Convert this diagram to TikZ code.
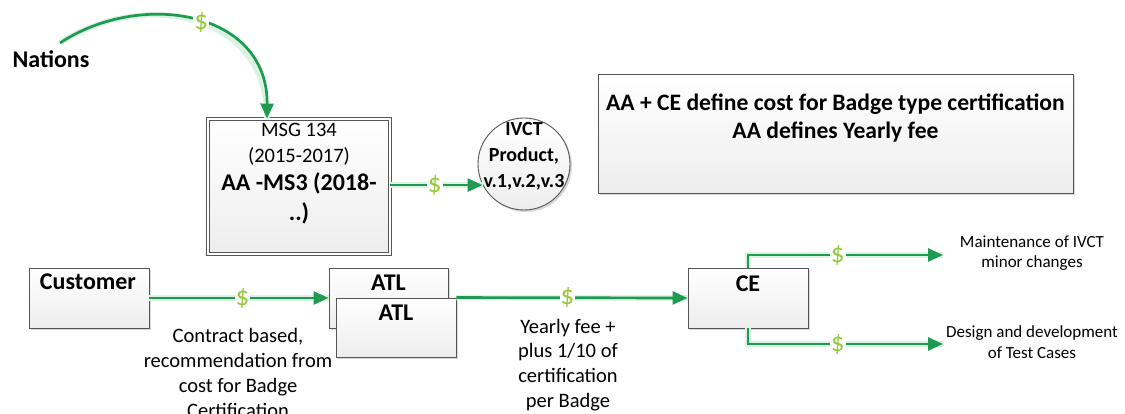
\documentclass[tikz,border=0pt]{standalone}
\usepackage{fontspec}
\setmainfont{Carlito}
\usetikzlibrary{arrows.meta,shadows,calc}

\definecolor{flow}{RGB}{30,155,80}
\definecolor{glow}{RGB}{218,242,225}
\definecolor{cash}{RGB}{150,200,60}
\definecolor{edge}{RGB}{85,85,85}

\newcommand{\fs}[2]{\fontsize{#1}{#2}\selectfont}

\tikzset{
  box/.style={draw=edge, line width=0.9pt, top color=white, bottom color=gray!14,
    drop shadow={shadow xshift=2pt, shadow yshift=-2pt, fill=gray!50, opacity=0.6},
    inner sep=0pt},
  flowline/.style={draw=flow, line width=2.7pt, -{Triangle[length=15pt,width=13pt]},
    preaction={draw=glow, line width=5.5pt, -}},
  dollar/.style={font=\fs{27}{27}, text=cash, fill=white, inner sep=1pt},
  boxtitle/.style={font=\bfseries\fs{24}{28}, inner sep=0pt},
  note/.style={font=\fs{20.5}{24.8}, align=center, inner sep=0pt},
  smallnote/.style={font=\fs{17}{20.5}, align=center, inner sep=0pt}
}

\begin{document}
\begin{tikzpicture}[x=1pt, y=-1pt]
\clip (0,0) rectangle (1125,414);
\fill[white] (0,0) rectangle (1125,414);

% boxes
\node[box, minimum width=182pt, minimum height=135pt, double, double distance=2.4pt] (msg) at (299,186.5) {};
\node[box, circle, minimum size=92pt] (ivct) at (524,164) {};
\node[box, minimum width=475pt, minimum height=119pt] (note) at (835.5,133.5) {};
\node[box, minimum width=120pt, minimum height=60pt] (cust) at (89,298) {};
\node[box, minimum width=119pt, minimum height=60pt] (atlA) at (388.5,298) {};
\node[box, minimum width=120pt, minimum height=59pt] (atlB) at (396,327.5) {};
\node[box, minimum width=120pt, minimum height=60pt] (ce) at (748,298) {};

% texts
\node[font=\bfseries\fs{24}{28}, inner sep=0pt] (nations) at (51,59) {Nations};
\node[font=\fs{20.5}{25.5}, align=center, inner sep=0pt] (msgold) at (299,144.5) {MSG 134\\(2015-2017)};
\node[font=\bfseries\fs{24}{30}, align=center, inner sep=0pt] (msgnew) at (299,198) {AA -MS3 (2018-\\..)};
\node[font=\bfseries\fs{20}{26}, align=center, inner sep=0pt] (ivcttxt) at (524,156) {IVCT\\Product,\\v.1,v.2,v.3};
\node[font=\bfseries\fs{23.6}{28}, align=center, inner sep=0pt] (notetxt) at (835.5,118) {AA + CE define cost for Badge type certification\\AA defines Yearly fee};
\node[boxtitle] (custtxt) at (88,282) {Customer};
\node[boxtitle] (atlAtxt) at (388.5,283) {ATL};
\node[boxtitle] (atlBtxt) at (396,313) {ATL};
\node[boxtitle] (cetxt) at (748,284) {CE};
\node[note] (contract) at (238,373) {Contract based,\\recommendation from\\cost for Badge\\Certification};
\node[note] (yearly) at (568,365) {Yearly fee +\\plus 1/10 of\\certification\\per Badge};
\node[smallnote] (maint) at (1032,253) {Maintenance of IVCT\\minor changes};
\node[smallnote] (design) at (1032,342) {Design and development\\of Test Cases};

% connector ends
\coordinate (nstart) at (60,43);
\coordinate (msgin) at ($(msg.north)+(-32,0)$);
\coordinate (mtend) at (943,255);
\coordinate (dtend) at (943,344);

% money flows
\draw[flowline] (nstart) .. controls (140,-10) and (268,10) .. (msgin) node[dollar, pos=0.53] {\$};
\draw[flowline] (msg.east |- ivct.207) -- (ivct.207) node[dollar, pos=0.48] {\$};
\draw[flowline] (cust.east) -- (atlA.west) node[dollar, pos=0.52] {\$};
\draw[flowline] (atlB.north east) -- (ce.west) node[dollar, pos=0.48] {\$};
\draw[flowline] (ce.north) |- (mtend) node[dollar, pos=0.73] {\$};
\draw[flowline] (ce.south) |- (dtend) node[dollar, pos=0.73] {\$};
\end{tikzpicture}
\end{document}
